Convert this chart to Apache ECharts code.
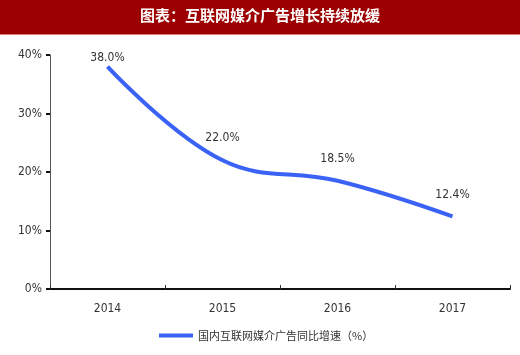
<!DOCTYPE html>
<html><head><meta charset="utf-8">
<script src="https://cdn.jsdelivr.net/npm/echarts@6/dist/echarts.min.js"></script>
<style>html,body{margin:0;padding:0;background:#fff}#c{width:520px;height:355px}</style>
</head><body><div id="c"></div>
<script>
var titleText = '图表：互联网媒介广告增长持续放缓';
var categories = ['2014', '2015', '2016', '2017'];
var seriesName = '国内互联网媒介广告同比增速（%）';
var values = [38.0, 22.0, 18.5, 12.4];
var yTicks = [0, 10, 20, 30, 40];

var numFont = '"Liberation Sans Narrow", "DejaVu Sans Condensed", "Liberation Sans"';
var labelDist = [3, 16, 16, 16];
var chart = echarts.init(document.getElementById('c'));
chart.setOption({
  animation: false,
  graphic: [
    {type: 'rect', left: 0, top: 0, shape: {width: 520, height: 34}, style: {fill: '#9c0000'}, z: 0},
    {type: 'rect', left: 0, top: 34, shape: {width: 520, height: 1}, style: {fill: '#d77a7a'}, z: 0},
    {type: 'text', left: 'center', top: 8, style: {text: titleText, fill: '#fff', font: 'bold 15px "Noto Sans CJK SC"'}, z: 1}
  ],
  grid: {left: 50, right: 10, top: 55, bottom: 66},
  legend: {
    bottom: 9, left: 154, itemWidth: 34, itemHeight: 4, itemGap: 4,
    icon: 'rect',
    textStyle: {fontSize: 11, color: '#333', fontFamily: '"Noto Sans CJK SC"'},
    data: [seriesName]
  },
  xAxis: {
    type: 'category', data: categories, boundaryGap: true,
    axisLine: {lineStyle: {color: '#111', width: 2}},
    axisTick: {show: true, inside: true, length: 4, lineStyle: {color: '#333', width: 1}},
    axisLabel: {color: '#333', fontSize: 12, margin: 14, fontFamily: numFont}
  },
  yAxis: {
    type: 'value', min: yTicks[0], max: yTicks[yTicks.length - 1], interval: 10,
    axisLine: {show: true, lineStyle: {color: '#555', width: 1}},
    axisTick: {show: true, length: 4, lineStyle: {color: '#111', width: 2}},
    splitLine: {show: false},
    axisLabel: {color: '#333', fontSize: 12, margin: 8, formatter: '{value}%', fontFamily: numFont}
  },
  series: [{
    name: seriesName, type: 'line', smooth: 0.4,
    showSymbol: true, symbol: 'circle', symbolSize: 0,
    lineStyle: {color: '#3a63f5', width: 4},
    itemStyle: {color: '#3a63f5'},
    data: values.map(function (v, i) {
      return {value: v, label: {show: true, position: 'top', distance: labelDist[i]}};
    }),
    label: {show: true, position: 'top', color: '#333', fontSize: 12, fontFamily: numFont,
      formatter: function (p) { return p.value.toFixed(1) + '%'; }}
  }]
});
</script></body></html>
